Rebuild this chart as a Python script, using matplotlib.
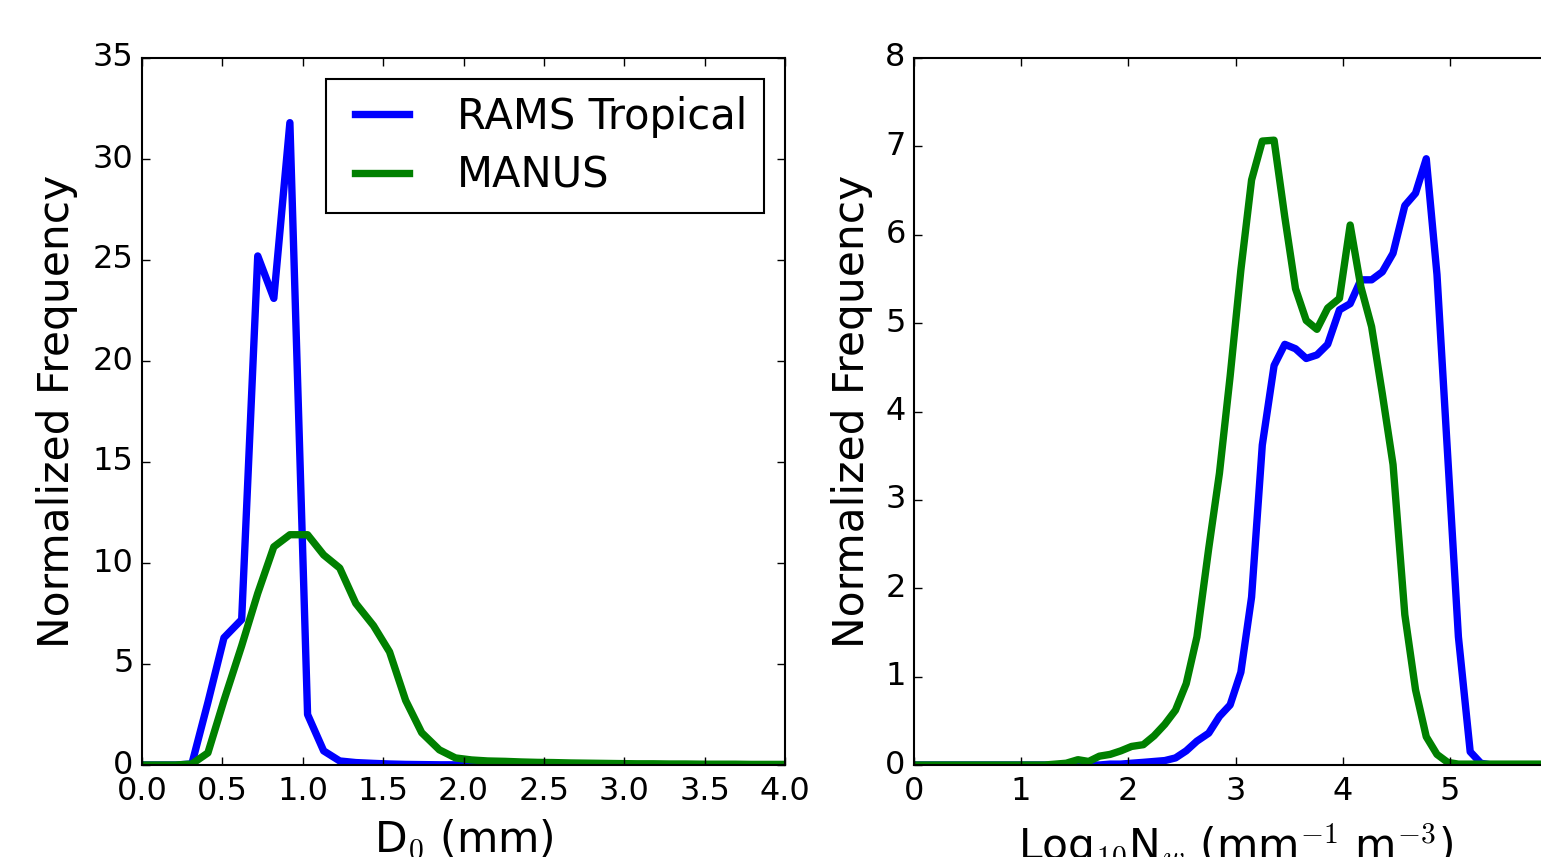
import numpy as np
import matplotlib
matplotlib.use('Agg')
import matplotlib.pyplot as plt

plt.style.use('classic')

# D0 histogram (left panel)
d0 = [0.00, 0.10, 0.21, 0.31, 0.41, 0.51, 0.62, 0.72, 0.82, 0.92,
      1.03, 1.13, 1.23, 1.33, 1.44, 1.54, 1.64, 1.74, 1.85, 1.95,
      2.05, 2.15, 2.26, 2.36, 2.46, 2.56, 2.67, 2.77, 2.87, 2.97,
      3.08, 3.18, 3.28, 3.38, 3.49, 3.59, 3.69, 3.79, 3.90, 4.00]
d0_rams = [0, 0, 0, 0.05, 3.1, 6.3, 7.2, 25.2, 23.1, 31.8,
           2.5, 0.7, 0.2, 0.12, 0.08, 0.05, 0.03, 0.02, 0.01, 0.01,
           0, 0, 0, 0, 0, 0, 0, 0, 0, 0,
           0, 0, 0, 0, 0, 0, 0, 0, 0, 0]
d0_manus = [0, 0, 0, 0.05, 0.6, 3.2, 5.9, 8.5, 10.8, 11.4,
            11.4, 10.4, 9.75, 8.0, 6.9, 5.6, 3.2, 1.6, 0.75, 0.35,
            0.25, 0.2, 0.18, 0.15, 0.13, 0.12, 0.1, 0.09, 0.08, 0.07,
            0.06, 0.06, 0.05, 0.05, 0.04, 0.04, 0.04, 0.03, 0.03, 0.03]

# log10 Nw histogram (right panel)
nw = [0.00, 0.10, 0.20, 0.31, 0.41, 0.51, 0.61, 0.71, 0.81, 0.92,
      1.02, 1.12, 1.22, 1.32, 1.42, 1.53, 1.63, 1.73, 1.83, 1.93,
      2.03, 2.14, 2.24, 2.34, 2.44, 2.54, 2.64, 2.75, 2.85, 2.95,
      3.05, 3.15, 3.25, 3.36, 3.46, 3.56, 3.66, 3.76, 3.86, 3.97,
      4.07, 4.17, 4.27, 4.37, 4.47, 4.58, 4.68, 4.78, 4.88, 4.98,
      5.08, 5.19, 5.29, 5.39, 5.49, 5.59, 5.69, 5.80, 5.90, 6.00]
nw_rams = [0, 0, 0, 0, 0, 0, 0, 0, 0, 0,
           0, 0, 0, 0, 0, 0, 0, 0, 0.01, 0.01,
           0.02, 0.03, 0.04, 0.05, 0.08, 0.16, 0.27, 0.36, 0.55, 0.68,
           1.05, 1.9, 3.62, 4.52, 4.76, 4.71, 4.6, 4.64, 4.76, 5.15,
           5.22, 5.49, 5.49, 5.58, 5.79, 6.33, 6.47, 6.86, 5.55, 3.5,
           1.45, 0.15, 0.02, 0, 0, 0, 0, 0, 0, 0]
nw_manus = [0, 0, 0, 0, 0, 0, 0, 0, 0, 0,
            0, 0, 0, 0.01, 0.02, 0.06, 0.04, 0.1, 0.12, 0.16,
            0.21, 0.23, 0.33, 0.46, 0.62, 0.92, 1.45, 2.45, 3.3, 4.4,
            5.6, 6.62, 7.06, 7.07, 6.2, 5.39, 5.03, 4.93, 5.17, 5.28,
            6.11, 5.41, 4.96, 4.2, 3.4, 1.7, 0.85, 0.32, 0.12, 0.03,
            0.01, 0.01, 0.01, 0.01, 0.01, 0.01, 0.01, 0.01, 0.01, 0.01]

W, H = 1541, 857
fig = plt.figure(figsize=(W / 100, H / 100), dpi=100, facecolor='white')

# right panel runs past the figure edge, as in the cropped original
ax1 = fig.add_axes([142 / W, 92 / H, 643 / W, 707 / H])
ax2 = fig.add_axes([914 / W, 92 / H, 643 / W, 707 / H])

ax1.plot(d0, d0_rams, color='b', lw=5.3, label='RAMS Tropical')
ax1.plot(d0, d0_manus, color='g', lw=5.3, label='MANUS')
ax1.set_xlim(0, 4)
ax1.set_ylim(0, 35)
ax1.set_xticks(np.arange(0, 4.01, 0.5))
ax1.set_yticks(range(0, 36, 5))
ax1.set_xlabel(r'D$_0$ (mm)', fontsize=30.5, labelpad=8)
ax1.set_ylabel('Normalized Frequency', fontsize=30.5, labelpad=11)
leg = ax1.legend(loc='upper right', fontsize=30, handlelength=1.9,
                 handletextpad=0.85, borderaxespad=0.5, labelspacing=0.4)
leg.get_frame().set_linewidth(1.5)

ax2.plot(nw, nw_rams, color='b', lw=5.3)
ax2.plot(nw, nw_manus, color='g', lw=5.3)
ax2.set_xlim(0, 6)
ax2.set_ylim(0, 8)
ax2.set_xticks(range(0, 6))
ax2.set_yticks(range(0, 9))
ax2.set_xlabel(r'Log$_{10}$N$_w$ (mm$^{-1}$ m$^{-3}$)', fontsize=30.5, labelpad=10)
ax2.set_ylabel('Normalized Frequency', fontsize=30.5, labelpad=9)

for ax in (ax1, ax2):
    ax.tick_params(labelsize=23, width=1, length=6)
    ax.tick_params(axis='x', pad=8)
    ax.tick_params(axis='y', pad=6)
    for s in ax.spines.values():
        s.set_linewidth(1.5)

fig.savefig('out.png', dpi=100, facecolor='white')
